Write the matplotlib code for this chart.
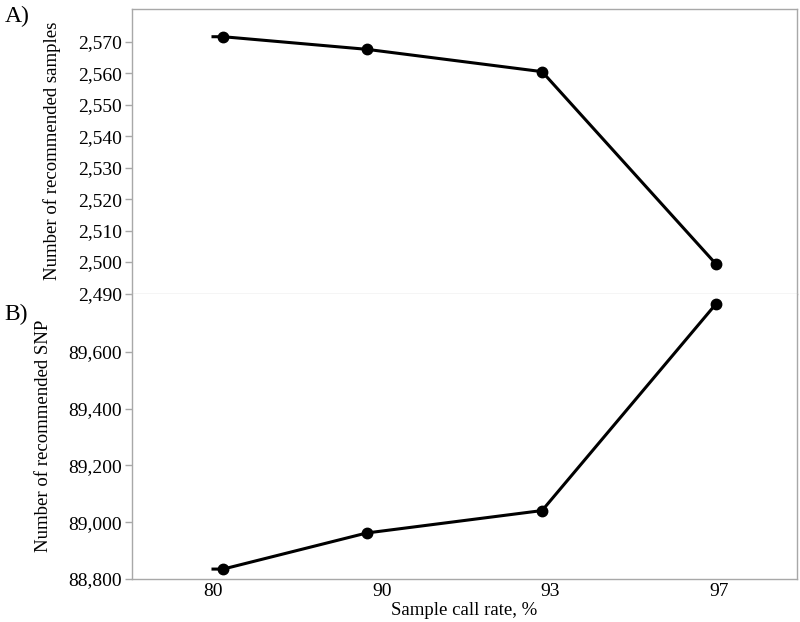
import numpy as np
import matplotlib
matplotlib.use("Agg")
import matplotlib.pyplot as plt
from matplotlib.ticker import FuncFormatter

plt.rcParams['font.family'] = ['Liberation Serif', 'DejaVu Serif']

# data
call_rate = ['80', '90', '93', '97']
# markers sit a little off the category centres in the original
marker_pos = [0.06, 0.91, 1.95, 2.98]
samples = [2571.6, 2567.6, 2560.5, 2499.4]
snps = [88835, 88962, 89041, 89768]
samples_ticks = [2490, 2500, 2510, 2520, 2530, 2540, 2550, 2560, 2570]
snp_ticks = [88800, 89000, 89200, 89400, 89600]

frame_col = '#a8a8a8'
comma = FuncFormatter(lambda v, p: f"{int(round(v)):,}")

fig = plt.figure(figsize=(8, 6.22), dpi=100)
left, right = 0.1646, 0.9959
top, mid, bottom = 0.9855, 0.5281, 0.0691
ax1 = fig.add_axes([left, mid, right - left, top - mid])
ax2 = fig.add_axes([left, bottom, right - left, mid - bottom], sharex=ax1)


def draw(ax, vals, ticks):
    xs = [0] + marker_pos
    ys = [vals[0]] + vals
    ax.plot(xs, ys, color='black', lw=2.2, solid_joinstyle='miter', zorder=3)
    ax.plot(marker_pos, vals, 'o', color='black', ms=7.5, zorder=4)
    for s in ax.spines.values():
        s.set_color(frame_col)
        s.set_linewidth(1.0)
    ax.set_yticks(ticks)
    ax.tick_params(axis='y', length=5, width=1, color=frame_col, labelsize=14, pad=2)
    ax.yaxis.set_major_formatter(comma)


draw(ax1, samples, samples_ticks)
draw(ax2, snps, snp_ticks)

ax1.set_xlim(-0.482, 3.459)
ax1.set_ylim(2490, 2580.4)
ax1.spines['bottom'].set_color('#d0d0d0')
ax1.tick_params(axis='x', bottom=False, labelbottom=False)

ax2.set_ylim(88800, 89805)
ax2.spines['top'].set_visible(False)
ax2.set_xticks(range(len(call_rate)))
ax2.set_xticklabels(call_rate)
ax2.tick_params(axis='x', length=0, labelsize=14, pad=3)

ax1.set_ylabel('Number of recommended samples', fontsize=13.5, labelpad=12)
ax2.set_ylabel('Number of recommended SNP', fontsize=13.5, labelpad=12)
ax2.set_xlabel('Sample call rate, %', fontsize=13.5, labelpad=1)
fig.align_ylabels([ax1, ax2])

fig.text(0.006, 0.99, 'A)', fontsize=17, va='top', ha='left')
fig.text(0.006, 0.512, 'B)', fontsize=17, va='top', ha='left')

fig.savefig('out.png', dpi=100)
